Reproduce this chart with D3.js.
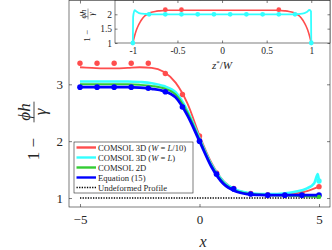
<!DOCTYPE html>
<html><head><meta charset="utf-8">
<script src="https://cdn.jsdelivr.net/npm/d3@7"></script>
<style>
body{margin:0;background:#fff}
svg{display:block}
text{font-family:'Liberation Serif','Times New Roman',serif;fill:#262626}
</style>
</head><body><svg id="c" width="332" height="250"></svg>
<script>
// ---------- data ----------
const xTicks = [-5, 0, 5];
const yTicks = [1, 2, 3];
const insetXTicks = [-1, -0.5, 0, 0.5, 1];
const insetYTicks = [1, 1.5, 2];
const legendLabels = ["COMSOL 3D (W = L/10)", "COMSOL 3D (W = L)", "COMSOL 2D", "Equation (15)", "Undeformed Profile"];

const redX = [-5,-4.5,-4,-3.5,-3,-2.5,-2,-1.5,-1,-0.5,0,0.5,1,1.5,2,2.5,3,3.5,4,4.5,5];
const redY = [3.30,3.29,3.28,3.28,3.29,3.30,3.29,3.22,3.03,2.66,2.10,1.62,1.30,1.15,1.09,1.06,1.05,1.06,1.08,1.12,1.20];
const cyanX = [-5,-4,-3,-2.5,-2,-1.5,-1,-0.5,0,0.5,1,1.5,2,2.5,3,3.5,4,4.5,4.8,4.95,5];
const cyanY = [3.05,3.05,3.05,3.04,3.02,2.97,2.86,2.53,2.05,1.59,1.29,1.15,1.09,1.07,1.07,1.08,1.11,1.17,1.26,1.42,1.30];
const greenX = [-5,-4,-3,-2.5,-2,-1.5,-1,-0.5,0,0.5,1,1.5,2,2.5,3,4,5];
const greenY = [3.00,3.00,3.00,2.99,2.97,2.93,2.82,2.50,2.03,1.57,1.27,1.13,1.08,1.06,1.05,1.04,1.02];
const blueX = [-5,-4,-3,-2.5,-2,-1.5,-1,-0.5,0,0.5,1,1.5,2,2.5,3,4,5];
const blueY = [2.95,2.95,2.95,2.94,2.92,2.88,2.77,2.45,2.00,1.55,1.25,1.12,1.07,1.055,1.05,1.05,1.05];
const dotX = [-5,-4.286,-3.571,-2.857,-2.143,-1.429,-0.714,0,0.714,1.429,2.143,2.857,3.571,4.286,5];
const redDotY = [3.37,3.37,3.37,3.37,3.37,3.19,2.82,2.09,1.44,1.17,1.08,1.06,1.06,1.09,1.20];
const blueDotY = [2.95,2.95,2.95,2.95,2.93,2.87,2.60,2.00,1.42,1.16,1.07,1.05,1.05,1.05,1.05];
const endDotX = [5];
const cyanEndDotY = [1.30];
const greenEndDotY = [1.02];
const flatX = [-5, 5];
const flatY = [1, 1];

const insetRedZ = [-1,-0.98,-0.96,-0.94,-0.92,-0.9,-0.87,-0.84,-0.8,-0.75,-0.7,-0.6,-0.4,0,0.4,0.6,0.7,0.75,0.8,0.84,0.87,0.9,0.92,0.94,0.96,0.98,1];
const insetRedV = [1.0,1.25,1.45,1.6,1.72,1.82,1.93,2.0,2.06,2.1,2.12,2.14,2.14,2.14,2.14,2.14,2.12,2.1,2.06,2.0,1.93,1.82,1.72,1.6,1.45,1.25,1.0];
const insetRedDotZ = [-0.636,-0.455,0.636];
const insetRedDotV = [2.16,2.16,2.16];
const insetCyanZ = [-1,-0.997,-0.98,-0.96,-0.93,-0.9,-0.85,-0.8,0,0.8,0.9,0.95,0.98,0.997,1];
const insetCyanV = [1.0,1.9,2.14,2.1,2.04,2.02,2.01,2.0,2.0,2.0,2.02,2.08,2.15,2.1,1.0];
const insetCyanDotZ = [-1,-0.818,-0.636,-0.455,-0.273,-0.091,0.091,0.273,0.455,0.636,0.818,1];
const insetCyanDotV = [1,2,2,2,2,2,2,2,2,2,2,1];

// ---------- styles ----------
const RED = "#ff4d4d", CYAN = "#33ffff", GREEN = "#33cc33", BLUE = "#0000ff", AX = "#262626";

const svg = d3.select("#c");
const zip = (a, b) => a.map((v, i) => [v, b[i]]);

// ---------- main axes ----------
const M = {l: 69, r: 330, t: 0.5, b: 207};
const x = d3.scaleLinear().domain([-5.46, 5.46]).range([M.l, M.r]);
const y = d3.scaleLinear().domain([0.842, 4.474]).range([M.b, M.t]);

const styleAxis = (g, fs) => {
  g.select(".domain").remove();
  g.selectAll(".tick line").attr("stroke", AX).attr("stroke-width", 0.6);
  g.selectAll(".tick text").attr("fill", AX).style("font-size", fs + "px")
    .style("font-family", "'Liberation Serif',serif");
};

svg.append("rect").attr("x", M.l).attr("y", M.t).attr("width", M.r - M.l).attr("height", M.b - M.t)
  .attr("fill", "none").attr("stroke", AX).attr("stroke-width", 0.6);

svg.append("g").attr("transform", `translate(0,${M.b})`)
  .call(d3.axisBottom(x).tickValues(xTicks).tickSize(-3).tickSizeOuter(0).tickPadding(8).tickFormat(d3.format("d")))
  .call(g => styleAxis(g, 13));
svg.append("g").attr("transform", `translate(0,${M.t})`)
  .call(d3.axisTop(x).tickValues(xTicks).tickSize(-3).tickSizeOuter(0).tickFormat(""))
  .call(g => styleAxis(g, 13));
svg.append("g").attr("transform", `translate(${M.l},0)`)
  .call(d3.axisLeft(y).tickValues(yTicks).tickSize(-3).tickSizeOuter(0).tickPadding(6).tickFormat(d3.format("d")))
  .call(g => styleAxis(g, 13));
svg.append("g").attr("transform", `translate(${M.r},0)`)
  .call(d3.axisRight(y).tickValues(yTicks).tickSize(-3).tickSizeOuter(0).tickFormat(""))
  .call(g => styleAxis(g, 13));

const line = d3.line().x(d => x(d[0])).y(d => y(d[1])).curve(d3.curveMonotoneX);
const plot = svg.append("g");
plot.append("path").datum(zip(flatX, flatY)).attr("d", d3.line().x(d => x(d[0])).y(d => y(d[1])))
  .attr("fill", "none").attr("stroke", "#000").attr("stroke-width", 1.6).attr("stroke-dasharray", "1.3,1.3");
plot.append("path").datum(zip(redX, redY)).attr("d", line).attr("fill", "none").attr("stroke", RED).attr("stroke-width", 1.8);
plot.selectAll(".rd").data(zip(dotX, redDotY)).join("circle").attr("cx", d => x(d[0])).attr("cy", d => y(d[1])).attr("r", 2.7).attr("fill", RED);
plot.append("path").datum(zip(cyanX, cyanY)).attr("d", line).attr("fill", "none").attr("stroke", CYAN).attr("stroke-width", 2.6);
plot.append("path").datum(zip(greenX, greenY)).attr("d", line).attr("fill", "none").attr("stroke", GREEN).attr("stroke-width", 2);
plot.append("path").datum(zip(blueX, blueY)).attr("d", line).attr("fill", "none").attr("stroke", BLUE).attr("stroke-width", 2.8);
plot.selectAll(".bd").data(zip(dotX, blueDotY)).join("circle").attr("cx", d => x(d[0])).attr("cy", d => y(d[1])).attr("r", 2.8).attr("fill", BLUE);
plot.selectAll(".cd").data(zip(endDotX, cyanEndDotY)).join("circle").attr("cx", d => x(d[0])).attr("cy", d => y(d[1])).attr("r", 2.7).attr("fill", CYAN);
plot.selectAll(".gd").data(zip(endDotX, greenEndDotY)).join("circle").attr("cx", d => x(d[0])).attr("cy", d => y(d[1])).attr("r", 2.2).attr("fill", GREEN);

// fraction label helper: "1 − φh/γ" rotated
function fracLabel(cx, yOne, yFrac, fs) {
  const g = svg.append("g").attr("transform", `translate(${cx},0) rotate(-90)`);
  g.append("text").attr("x", -yOne).attr("y", fs * 0.27).attr("text-anchor", "end")
    .style("font-size", fs + "px").text("1 \u2212");
  const num = g.append("text").attr("x", -yFrac).attr("y", -fs * 0.22).attr("text-anchor", "middle")
    .style("font-size", fs + "px").style("font-style", "italic").text("\u03d5h");
  g.append("text").attr("x", -yFrac).attr("y", fs * 0.72).attr("text-anchor", "middle")
    .style("font-size", fs + "px").style("font-style", "italic").text("\u03b3");
  const w = num.node().getComputedTextLength() + fs * 0.2;
  g.append("line").attr("x1", -yFrac - w / 2).attr("x2", -yFrac + w / 2).attr("y1", 0).attr("y2", 0)
    .attr("stroke", AX).attr("stroke-width", fs * 0.05);
}
fracLabel(34, 138, 112, 17);

svg.append("text").attr("x", 203).attr("y", 247).attr("text-anchor", "middle")
  .style("font-size", "16px").style("font-style", "italic").text("x");

// ---------- legend ----------
const L = {x: 74, y: 142, w: 119, h: 51};
const lg = svg.append("g");
lg.append("rect").attr("x", L.x).attr("y", L.y).attr("width", L.w).attr("height", L.h)
  .attr("fill", "#fff").attr("stroke", AX).attr("stroke-width", 0.6);
const legColors = [RED, CYAN, GREEN, BLUE, "#000"];
legendLabels.forEach((lab, i) => {
  const yy = L.y + 5.5 + i * 10;
  const ln = lg.append("line").attr("x1", L.x + 2.5).attr("x2", L.x + 22).attr("y1", yy).attr("y2", yy)
    .attr("stroke", legColors[i]).attr("stroke-width", i === 4 ? 1.6 : 2.4);
  if (i === 4) ln.attr("stroke-dasharray", "1.3,1.3");
  const t = lg.append("text").attr("x", L.x + 24).attr("y", yy + 3).style("font-size", "8.6px");
  lab.split(/\b([WL])\b/).forEach((seg, j) => {
    if (!seg) return;
    t.append("tspan").text(seg).style("font-style", j % 2 === 1 ? "italic" : "normal");
  });
});

// ---------- inset ----------
const I = {l: 115, r: 330, t: 0.5, b: 43};
const xi = d3.scaleLinear().domain([-1.2, 1.21]).range([I.l, I.r]);
const yi = d3.scaleLinear().domain([1, 2.48]).range([I.b, I.t]);
svg.append("rect").attr("x", I.l).attr("y", I.t).attr("width", I.r - I.l).attr("height", I.b - I.t)
  .attr("fill", "#fff").attr("stroke", AX).attr("stroke-width", 0.6);
const fmtI = d => (d === 0 ? "0" : d3.format("")(d)).replace("\u2212", "-");
svg.append("g").attr("transform", `translate(0,${I.b})`)
  .call(d3.axisBottom(xi).tickValues(insetXTicks).tickSize(-2.5).tickSizeOuter(0).tickPadding(4).tickFormat(fmtI))
  .call(g => styleAxis(g, 9.5));
svg.append("g").attr("transform", `translate(0,${I.t})`)
  .call(d3.axisTop(xi).tickValues(insetXTicks).tickSize(-2.5).tickSizeOuter(0).tickFormat(""))
  .call(g => styleAxis(g, 9.5));
svg.append("g").attr("transform", `translate(${I.l},0)`)
  .call(d3.axisLeft(yi).tickValues(insetYTicks).tickSize(-2.5).tickSizeOuter(0).tickPadding(3).tickFormat(fmtI))
  .call(g => styleAxis(g, 9.5));
svg.append("g").attr("transform", `translate(${I.r},0)`)
  .call(d3.axisRight(yi).tickValues(insetYTicks).tickSize(-2.5).tickSizeOuter(0).tickFormat(""))
  .call(g => styleAxis(g, 9.5));

const iline = d3.line().x(d => xi(d[0])).y(d => yi(d[1])).curve(d3.curveMonotoneX);
svg.append("path").datum(zip(insetRedZ, insetRedV)).attr("d", iline).attr("fill", "none").attr("stroke", RED).attr("stroke-width", 1.6);
svg.selectAll(".ird").data(zip(insetRedDotZ, insetRedDotV)).join("circle").attr("cx", d => xi(d[0])).attr("cy", d => yi(d[1])).attr("r", 2.4).attr("fill", RED);
svg.append("path").datum(zip(insetCyanZ, insetCyanV)).attr("d", iline).attr("fill", "none").attr("stroke", CYAN).attr("stroke-width", 1.8);
svg.selectAll(".icd").data(zip(insetCyanDotZ, insetCyanDotV)).join("circle").attr("cx", d => xi(d[0])).attr("cy", d => yi(d[1])).attr("r", 2.4).attr("fill", CYAN);

fracLabel(88, 30, 14, 9);
const zl = svg.append("text").attr("x", 222).attr("y", 69).attr("text-anchor", "middle").style("font-size", "11px");
zl.append("tspan").style("font-style", "italic").text("z");
zl.append("tspan").attr("dy", -4).style("font-size", "7px").text("*");
zl.append("tspan").attr("dy", 4).text("/");
zl.append("tspan").style("font-style", "italic").text("W");
</script>
</body></html>
